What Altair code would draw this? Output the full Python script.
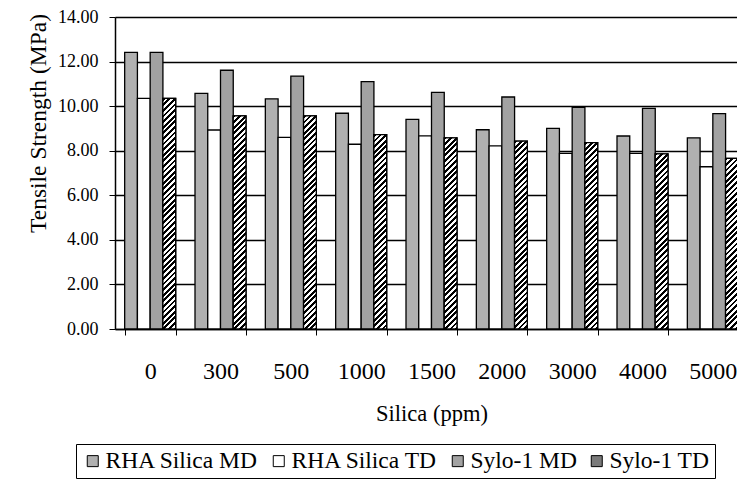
import altair as alt
import pandas as pd

categories = ["0", "300", "500", "1000", "1500", "2000", "3000", "4000", "5000"]
series_names = ["RHA Silica MD", "RHA Silica TD", "Sylo-1 MD", "Sylo-1 TD"]
rha_md = [12.41, 10.57, 10.33, 9.68, 9.41, 8.94, 9.00, 8.66, 8.58]
rha_td = [10.35, 8.93, 8.60, 8.29, 8.67, 8.22, 7.88, 7.88, 7.28]
sylo_md = [12.41, 11.61, 11.35, 11.10, 10.62, 10.41, 9.95, 9.90, 9.66]
sylo_td = [10.35, 9.56, 9.56, 8.72, 8.58, 8.43, 8.36, 7.86, 7.66]

series_values = [rha_md, rha_td, sylo_md, sylo_td]
series_colors = ["#b0b0b0", "#ffffff", "#a2a2a2", "#7a7a7a"]

FONT = "Liberation Serif"
PLOT_W = 622
PLOT_H = 312
X_RANGE = 633
Y_MAX = 14
PAD_INNER = 0.275

rows = []
for name, vals in zip(series_names, series_values):
    for cat, v in zip(categories, vals):
        rows.append({"silica": cat, "series": name, "value": v})
df = pd.DataFrame(rows)

# hatch fill ("/" stripes) for Sylo-1 TD bars, as linear gradients
px_per_unit = PLOT_H / Y_MAX
step = X_RANGE / len(categories)
bar_w = step * (1 - PAD_INNER) / len(series_names)
HATCH_PERIOD = 5.6


def hatch(v):
    h = v * px_per_unit
    w = bar_w
    a = (w + h) / (w * w + h * h)
    n = (w + h) / HATCH_PERIOD
    stops = []
    i = 0
    while i < n:
        t0 = i / n
        t1 = min((i + 0.5) / n, 1.0)
        t2 = min((i + 1) / n, 1.0)
        stops += [
            {"offset": t0, "color": "black"},
            {"offset": t1, "color": "black"},
            {"offset": t1, "color": "white"},
            {"offset": t2, "color": "white"},
        ]
        i += 1
    return {"gradient": "linear", "x1": 0, "y1": 0, "x2": a * w, "y2": a * h, "stops": stops}


hatch_rows = [
    {"silica": cat, "series": "Sylo-1 TD", "value": v, "grad": hatch(v)}
    for cat, v in zip(categories, sylo_td)
]

x_enc = alt.X(
    "silica:N",
    sort=categories,
    scale=alt.Scale(range=[0, X_RANGE], paddingInner=PAD_INNER, paddingOuter=PAD_INNER / 2),
    axis=alt.Axis(
        title="Silica (ppm)",
        labelAngle=0,
        tickBand="extent",
        tickSize=6,
        tickWidth=1,
        tickColor="black",
        domainColor="black",
        domainWidth=1.5,
        labelFont=FONT,
        labelFontSize=24,
        labelColor="black",
        labelPadding=24,
        titleFont=FONT,
        titleFontSize=22.5,
        titleFontWeight="normal",
        titleColor="black",
        titlePadding=19,
        grid=False,
    ),
)
xoff_enc = alt.XOffset(
    "series:N", sort=series_names,
    scale=alt.Scale(domain=series_names, paddingInner=0, paddingOuter=0),
)
y_enc = alt.Y(
    "value:Q",
    scale=alt.Scale(domain=[0, Y_MAX], nice=False),
    axis=alt.Axis(
        title="Tensile Strength (MPa)",
        values=[0, 2, 4, 6, 8, 10, 12, 14],
        format=".2f",
        grid=True,
        gridColor="black",
        gridWidth=1.4,
        gridOpacity=1,
        tickSize=6,
        tickColor="black",
        domainColor="black",
        domainWidth=1.5,
        labelFont=FONT,
        labelFontSize=18,
        labelColor="black",
        labelPadding=11,
        titleFont=FONT,
        titleFontSize=23.5,
        titleFontWeight="normal",
        titleColor="black",
        titlePadding=7,
        titleY=106,
    ),
)

bars = alt.Chart(df).mark_bar(stroke="black", strokeWidth=1.3).encode(
    x=x_enc,
    xOffset=xoff_enc,
    y=y_enc,
    color=alt.Color(
        "series:N",
        scale=alt.Scale(domain=series_names, range=series_colors),
        legend=alt.Legend(
            title=None,
            orient="none",
            legendX=-39,
            legendY=427,
            direction="horizontal",
            symbolType="square",
            symbolSize=121,
            symbolStrokeColor="black",
            symbolStrokeWidth=1,
            symbolOpacity=1,
            labelFont=FONT,
            labelFontSize=23.5,
            labelColor="black",
            labelOffset=1,
            columnPadding=8,
            strokeColor="black",
            padding=5,
        ),
    ),
)

hatched = alt.Chart(alt.Data(values=hatch_rows)).mark_bar(stroke="black", strokeWidth=1.3).encode(
    x=x_enc,
    xOffset=xoff_enc,
    y=y_enc,
    fill=alt.Fill("grad:N", scale=None),
)

chart = alt.layer(bars, hatched).properties(
    width=PLOT_W,
    height=PLOT_H,
    autosize=alt.AutoSizeParams(type="none"),
    padding={"left": 115, "top": 17, "right": 0, "bottom": 155},
    background="white",
).configure_view(stroke=None)

chart.save("out.html", embed_options={"renderer": "svg", "actions": False})
